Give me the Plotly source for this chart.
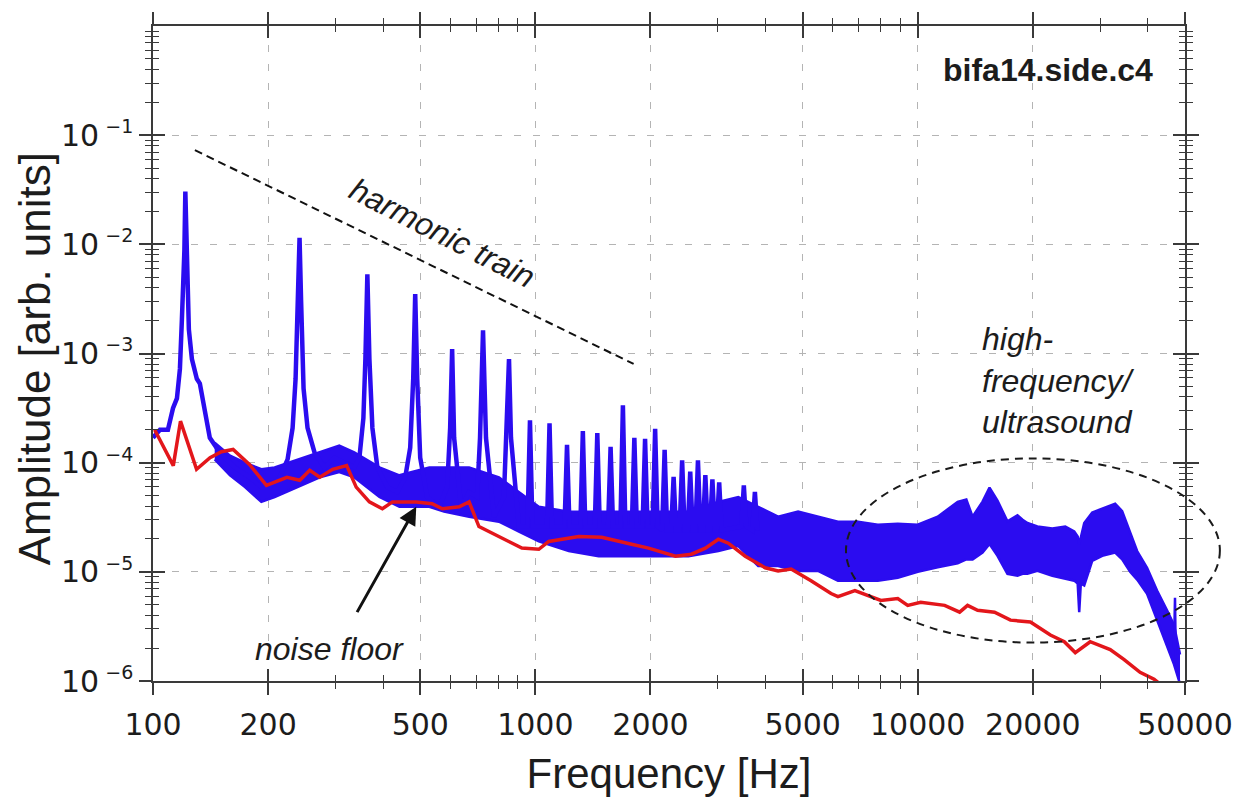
import math
import plotly.graph_objects as go

# ---------------- data ----------------
# Low-frequency part of the measured spectrum (first seven harmonics)
blue_hz = [100, 104.3, 109.4, 112.8, 115.5, 117.6, 119.0, 120.8, 121.5, 122.6,
           124.1, 126.4, 130.2, 132.6, 136.6, 140.8, 149.5, 163.6, 179, 192.4,
           201.9, 214.4, 224.9, 231.8, 236.0, 239.6, 241.7, 243.9, 247.6, 253.6,
           264.5, 280.9, 298.3, 316.7, 336.3, 346.6, 355.0, 359.3, 363.6, 368.1,
           374.8, 386.2, 410.1, 435.3, 456.7, 470.6, 479.2, 485.0, 490.9, 499.8,
           521.3, 560.4, 587.9, 598.6, 605.8, 613.1, 639.4, 670.7, 703.8, 716.6,
           729.6, 742.8, 779.4, 827.5, 843.0, 853.2, 863.4, 905.7]
blue_amp = [1.69e-4, 2.0e-4, 2.0e-4, 3.15e-4, 3.88e-4, 7.23e-4, 2.04e-3, 8.75e-3, 3.05e-2, 7.11e-3,
            1.66e-3, 8.9e-4, 5.87e-4, 5.3e-4, 3.15e-4, 1.69e-4, 1.24e-4, 9.05e-5, 7.35e-5, 5.97e-5,
            5.97e-5, 7.35e-5, 1.07e-4, 2.08e-4, 5.87e-4, 3.1e-3, 1.15e-2, 3.1e-3, 4.77e-4, 2.08e-4,
            1.24e-4, 9.05e-5, 1.11e-4, 1.0e-4, 9.05e-5, 1.11e-4, 2.56e-4, 8.9e-4, 5.32e-3, 8.9e-4,
            2.08e-4, 9.05e-5, 5.97e-5, 5.38e-5, 7.35e-5, 1.37e-4, 5.87e-4, 3.51e-3, 5.87e-4, 1.11e-4,
            4.85e-5, 3.94e-5, 5.97e-5, 2.08e-4, 1.1e-3, 1.69e-4, 3.94e-5, 5.38e-5, 4.85e-5, 1.69e-4,
            1.63e-3, 1.69e-4, 3.2e-5, 4.85e-5, 2.08e-4, 8.9e-4, 1.69e-4, 2.6e-5]

# Higher harmonics of the train: frequency, peak amplitude and amplitude at the foot
harm_hz = [968, 1089, 1210, 1331, 1452, 1573, 1694, 1815, 1936, 2057,
           2178, 2299, 2420, 2541, 2662, 2783, 2904, 3025, 3509, 3751]
harm_peak = [2.45e-4, 2.3e-4, 1.46e-4, 1.95e-4, 1.87e-4, 1.4e-4, 3.35e-4, 1.69e-4, 1.65e-4, 2.04e-4,
             1.31e-4, 7.4e-5, 1.05e-4, 8.3e-5, 1.05e-4, 7.7e-5, 7.05e-5, 6.6e-5, 6.2e-5, 5.4e-5]
harm_foot = [2.6e-5, 2.6e-5, 2.6e-5, 2.6e-5, 2.6e-5, 2.6e-5, 2.6e-5, 2.6e-5, 2.6e-5, 2.6e-5,
             2.4e-5, 2.4e-5, 2.4e-5, 2.4e-5, 2.4e-5, 2.4e-5, 2.4e-5, 2.4e-5, 2.6e-5, 2.4e-5]

# Envelope of the dense broadband part of the spectrum
band_hz = [145, 159, 174, 192, 208, 273, 307, 336, 391, 441,
           528, 577, 671, 803, 906, 1021, 1223, 1464, 1753, 2099,
           2514, 3010, 3394, 3826, 4314, 4865, 5486, 6185, 6975, 7865,
           8867, 10000, 11277, 12716, 13400, 13914, 14774, 15408, 16165, 17163,
           18233, 18800, 19357, 20557, 22490, 24314, 25663, 26200, 26444, 26700,
           27253, 28598, 30366, 32833, 34247, 35928, 37476, 39790, 42253, 44868,
           46792, 48520]
band_upper = [1.52e-4, 1.16e-4, 1.0e-4, 8.7e-5, 9.05e-5, 1.24e-4, 1.43e-4, 1.24e-4, 9.05e-5, 7.66e-5,
              9.05e-5, 9.05e-5, 9.05e-5, 7.35e-5, 5.38e-5, 3.94e-5, 3.56e-5, 3.56e-5, 3.56e-5, 3.56e-5,
              3.56e-5, 4.37e-5, 4.85e-5, 3.94e-5, 3.2e-5, 3.56e-5, 3.2e-5, 2.88e-5, 2.88e-5, 2.7e-5,
              2.75e-5, 2.7e-5, 3.2e-5, 4.37e-5, 4.6e-5, 3.2e-5, 4.4e-5, 5.9e-5, 4.5e-5, 2.9e-5,
              3.3e-5, 3.0e-5, 2.8e-5, 2.6e-5, 2.5e-5, 2.6e-5, 2.34e-5, 2.11e-5, 1.79e-5, 2.11e-5,
              2.8e-5, 3.5e-5, 3.8e-5, 4.2e-5, 3.6e-5, 2.34e-5, 1.55e-5, 1.09e-5, 6.74e-6, 4.45e-6,
              3.26e-6, 1.75e-6]
band_lower = [1.07e-4, 7.66e-5, 5.97e-5, 4.37e-5, 4.85e-5, 7.35e-5, 8.2e-5, 7.35e-5, 4.85e-5, 3.94e-5,
              3.94e-5, 3.56e-5, 3.2e-5, 2.88e-5, 2.34e-5, 1.9e-5, 1.55e-5, 1.39e-5, 1.39e-5, 1.39e-5,
              1.39e-5, 1.55e-5, 1.72e-5, 1.13e-5, 1.13e-5, 1.02e-5, 1.02e-5, 8.3e-6, 8.3e-6, 8.3e-6,
              8.8e-6, 1.0e-5, 1.1e-5, 1.2e-5, 1.3e-5, 1.3e-5, 1.5e-5, 1.8e-5, 1.4e-5, 9.6e-6,
              9.2e-6, 9.6e-6, 9.6e-6, 1.02e-5, 9.2e-6, 8.6e-6, 8.3e-6, 7.8e-6, 4.27e-6, 7.8e-6,
              7.5e-6, 1.26e-5, 1.4e-5, 1.5e-5, 1.3e-5, 1.0e-5, 8.5e-6, 6.3e-6, 3.61e-6, 2.15e-6,
              1.42e-6, 9.4e-7]

# Isolated spike near the upper end of the band
spike_hz = [46792, 47077, 47300]
spike_amp = [2.0e-6, 5.8e-6, 1.6e-6]

# Noise floor
red_hz = [101, 113, 118, 130, 141, 151, 162, 179, 198, 224,
          242, 257, 273, 295, 321, 340, 368, 398, 423, 488,
          537, 571, 632, 671, 712, 803, 922, 1021, 1084, 1298,
          1491, 1785, 1977, 2325, 2559, 2784, 3010, 3196, 3539, 3990,
          4314, 4665, 5260, 5932, 6185, 6850, 7406, 8010, 8867, 9416,
          10180, 11760, 12870, 13500, 14340, 15880, 17480, 19710, 22230, 24170,
          25820, 28250, 31870, 34660, 38150, 41500, 46230]
red_amp = [2.0e-4, 9.4e-5, 2.4e-4, 8.7e-5, 1.11e-4, 1.26e-4, 1.32e-4, 9.6e-5, 6.2e-5, 7.35e-5,
           6.9e-5, 8.5e-5, 7.35e-5, 8.7e-5, 9.4e-5, 5.97e-5, 4.37e-5, 3.78e-5, 4.37e-5, 4.37e-5,
           4.2e-5, 3.78e-5, 3.94e-5, 4.37e-5, 2.6e-5, 2.11e-5, 1.65e-5, 1.61e-5, 1.9e-5, 2.11e-5,
           2.07e-5, 1.79e-5, 1.65e-5, 1.39e-5, 1.45e-5, 1.65e-5, 1.99e-5, 1.83e-5, 1.39e-5, 1.09e-5,
           1.02e-5, 1.06e-5, 8.3e-6, 6.33e-6, 5.94e-6, 6.74e-6, 6.07e-6, 5.47e-6, 5.7e-6, 4.93e-6,
           5.25e-6, 4.93e-6, 4.27e-6, 4.93e-6, 4.45e-6, 4.27e-6, 3.61e-6, 3.47e-6, 2.64e-6, 2.29e-6,
           1.82e-6, 2.29e-6, 1.94e-6, 1.57e-6, 1.2e-6, 1.04e-6, 7.6e-7]

# Guide line along the decay of the harmonic train
train_hz = [128.7, 1807]
train_amp = [0.0729, 8.02e-4]

# Axis ticks
x_ticks = [100, 200, 500, 1000, 2000, 5000, 10000, 20000, 50000]
x_ticktext = ["100", "200", "500", "1000", "2000", "5000", "10000", "20000", "50000"]
x_minor = [300, 400, 600, 700, 800, 900, 3000, 4000, 6000, 7000, 8000, 9000, 30000, 40000]
y_exps = [-6, -5, -4, -3, -2, -1]

# ---------------- styling ----------------
BLUE = "#2b0cf0"
RED = "#e3161b"
AXIS = "#3a3a3a"
TICK_FONT = dict(family="DejaVu Sans", size=30, color="#1c1c1c")
XTITLE_FONT = dict(family="Liberation Sans", size=42, color="#1c1c1c")
YTITLE_FONT = dict(family="Liberation Sans", size=44, color="#1c1c1c")
NOTE_FONT = dict(family="Liberation Sans", size=32, color="#1c1c1c")
SPIKE_HALF_WIDTH = 0.015

y_ticks = [10.0 ** e for e in y_exps]
y_ticktext = ["10<sup><span style='font-size:19px'> \u2212%d</span></sup>" % (-e) for e in y_exps]
y_minor = [k * 10.0 ** e for e in range(-6, 0) for k in range(2, 10)]

x_range = [math.log10(100), math.log10(50000)]
y_range = [-6, 0]

# Blue trace: explicit low-frequency samples followed by narrow harmonic spikes
line_x = list(blue_hz)
line_y = list(blue_amp)
for f, p, b in zip(harm_hz, harm_peak, harm_foot):
    line_x += [f * (1 - SPIKE_HALF_WIDTH), f, f * (1 + SPIKE_HALF_WIDTH)]
    line_y += [b, p, b]

fig = go.Figure()

fig.add_trace(go.Scatter(x=band_hz, y=band_upper, mode="lines",
                         line=dict(color=BLUE, width=2.5), hoverinfo="skip"))
fig.add_trace(go.Scatter(x=band_hz, y=band_lower, mode="lines", fill="tonexty",
                         fillcolor=BLUE, line=dict(color=BLUE, width=2.5), hoverinfo="skip"))
fig.add_trace(go.Scatter(x=line_x, y=line_y, mode="lines",
                         line=dict(color=BLUE, width=4.5), hoverinfo="skip"))
fig.add_trace(go.Scatter(x=spike_hz, y=spike_amp, mode="lines",
                         line=dict(color=BLUE, width=2.5), hoverinfo="skip"))
fig.add_trace(go.Scatter(x=red_hz, y=red_amp, mode="lines",
                         line=dict(color=RED, width=3.5), hoverinfo="skip"))
fig.add_trace(go.Scatter(x=train_hz, y=train_amp, mode="lines",
                         line=dict(color="#111111", width=2, dash="8px,5px"), hoverinfo="skip"))
# carrier for the overlaid axes that draw the inward half of the ticks
fig.add_trace(go.Scatter(x=[1000], y=[1e-3], xaxis="x2", yaxis="y2", mode="markers",
                         marker=dict(opacity=0), hoverinfo="skip"))

common_x = dict(type="log", range=x_range, tickvals=x_ticks, ticklen=12, tickwidth=1.5,
                tickcolor=AXIS, showline=True, linecolor=AXIS, linewidth=1.5, mirror="ticks",
                zeroline=False, fixedrange=True)
common_y = dict(type="log", range=y_range, tickvals=y_ticks, ticklen=12, tickwidth=1.5,
                tickcolor=AXIS, showline=True, linecolor=AXIS, linewidth=1.5, mirror="ticks",
                zeroline=False, fixedrange=True)

fig.update_layout(
    width=1245, height=801,
    margin=dict(l=153, r=57, t=22, b=114),
    paper_bgcolor="white", plot_bgcolor="white",
    showlegend=False,
    xaxis=dict(**common_x, ticks="outside", ticktext=x_ticktext, tickfont=TICK_FONT,
               ticklabelstandoff=4,
               showgrid=True, gridcolor="#b4b4b4", gridwidth=1.2, griddash="7px,12px",
               minor=dict(tickvals=x_minor, ticks="outside", ticklen=6, tickwidth=1.2,
                          tickcolor=AXIS, showgrid=False),
               title=dict(text="Frequency [Hz]", font=XTITLE_FONT, standoff=18)),
    yaxis=dict(**common_y, ticks="outside", ticktext=y_ticktext, tickfont=TICK_FONT,
               ticklabelstandoff=0,
               showgrid=True, gridcolor="#b4b4b4", gridwidth=1.2, griddash="7px,12px",
               minor=dict(tickvals=y_minor, ticks="outside", ticklen=6, tickwidth=1.2,
                          tickcolor=AXIS, showgrid=False)),
    xaxis2=dict(**common_x, overlaying="x", anchor="y2", side="bottom", ticks="inside",
                showticklabels=False, showgrid=False,
                minor=dict(tickvals=x_minor, ticks="inside", ticklen=6, tickwidth=1.2,
                           tickcolor=AXIS, showgrid=False)),
    yaxis2=dict(**common_y, overlaying="y", anchor="x2", side="left", ticks="inside",
                showticklabels=False, showgrid=False,
                minor=dict(tickvals=y_minor, ticks="inside", ticklen=6, tickwidth=1.2,
                           tickcolor=AXIS, showgrid=False)),
)

# Vertical axis title
fig.add_annotation(text="Amplitude [arb. units]", xref="paper", yref="paper",
                   x=-0.114, y=0.4917, xanchor="center", yanchor="middle",
                   textangle=-90, showarrow=False, font=YTITLE_FONT)

# Dashed ellipse around the high-frequency region
fig.add_shape(type="circle", xref="paper", yref="paper",
              x0=0.6715, x1=1.0338, y0=0.0586, y1=0.3398,
              line=dict(color="#1a1a1a", width=2, dash="8px,6px"), layer="above")

fig.add_annotation(text="<b>bifa14.side.c4</b>", xref="paper", yref="paper",
                   x=0.971, y=0.9323, xanchor="right", yanchor="middle",
                   showarrow=False, font=NOTE_FONT)
fig.add_annotation(text="<i>harmonic train</i>", xref="paper", yref="paper",
                   x=0.2802, y=0.6842, xanchor="center", yanchor="middle",
                   textangle=27, showarrow=False, font=NOTE_FONT)
fig.add_annotation(text="<i>noise floor</i>", xref="paper", yref="paper",
                   x=0.171, y=0.0481, xanchor="center", yanchor="middle",
                   showarrow=False, font=NOTE_FONT)
fig.add_annotation(text="<i>high-<br>frequency/<br>ultrasound</i>", xref="paper", yref="paper",
                   x=0.801, y=0.4586, xanchor="left", yanchor="middle", align="left",
                   showarrow=False, font=NOTE_FONT)
fig.add_annotation(text="", xref="paper", yref="paper", x=0.2551, y=0.2662,
                   ax=-60, ay=107, showarrow=True, arrowhead=2, arrowsize=1.2,
                   arrowwidth=3, arrowcolor="#111111")

fig.write_html("out.html")
